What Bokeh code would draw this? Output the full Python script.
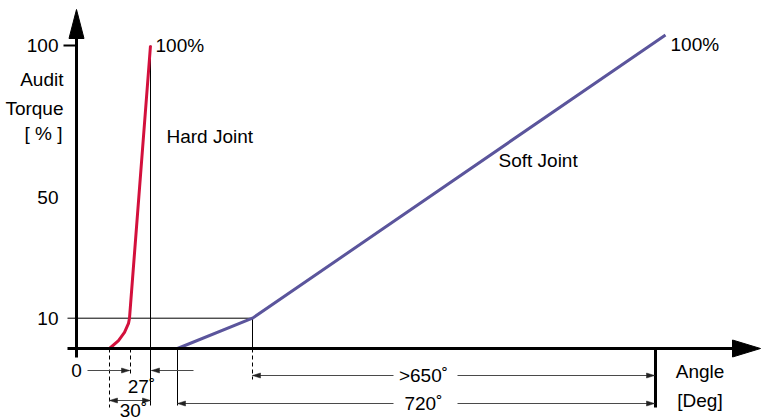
from bokeh.plotting import figure
from bokeh.models import Range1d
from bokeh.core.properties import value
from bokeh.embed import file_html
from bokeh.resources import INLINE

# ---------------- data (diagram units: x = angle position, y = torque %) ----------
y_tick_values = [100, 50, 10]
y_tick_labels = ["100", "50", "10"]

hard_angle = [33, 42, 48, 52, 53, 74]
hard_torque = [0, 2.6, 5.3, 8.3, 10, 100]

soft_angle = [101, 176, 589]
soft_torque = [0, 10, 103.5]

# key angle positions on the diagram
hard_snug = 33       # start of hard joint
hard_27 = 54         # 27 deg mark
hard_30 = 74         # 30 deg mark (100 % hard)
soft_snug = 101      # start of soft joint
soft_knee = 176      # 10 % point on soft joint
soft_720 = 579       # 720 deg mark
knee_torque = 10

dim_labels = ["0", "27˚", "30˚", ">650˚", "720˚"]

# ---------------- geometry helpers ----------------
W, H = 766, 420
PXY = 3.03                      # pixels per torque unit
X0 = 76                         # plot px of angle 0
Y0 = 348                        # plot px (from top) of torque 0
x_range = Range1d(-X0, W - X0)
y_range = Range1d(-(H - Y0) / PXY, Y0 / PXY)

def py(px):
    """pixel offset -> torque units"""
    return px / PXY

FONT = value("Liberation Sans")
FS = "19px"
BLACK = "#000000"
DIM = "#4a4a4a"
RED = "#d3103c"
PURPLE = "#5b559c"

p = figure(width=W, height=H, x_range=x_range, y_range=y_range,
           output_backend="svg", toolbar_location=None,
           x_axis_location=None, y_axis_location=None,
           min_border=0, outline_line_color=None)
p.grid.visible = False
p.background_fill_color = "white"
p.border_fill_color = "white"

# ---------------- reference / extension lines ----------------
# 10 % horizontal guide
p.line([-9, soft_knee], [knee_torque, knee_torque], line_color=BLACK, line_width=1)
# 100 tick
p.line([-13, 0], [100, 100], line_color=BLACK, line_width=2)
# solid verticals
p.segment(x0=[hard_30, soft_snug, soft_knee], y0=[100, 0, knee_torque],
          x1=[hard_30, soft_snug, soft_knee], y1=[-py(57), -py(57), 0],
          line_color=BLACK, line_width=1)
# dashed verticals
p.segment(x0=[hard_snug, hard_27, soft_knee], y0=[0, 0, 0],
          x1=[hard_snug, hard_27, soft_knee], y1=[-py(59), -py(27), -py(31)],
          line_color=BLACK, line_width=1, line_dash="4 3")
# 720 end bar
p.line([soft_720, soft_720], [0, -py(59)], line_color=BLACK, line_width=3)

# ---------------- dimension lines ----------------
row_a = -py(22)
row_b = -py(27)
row_c = -py(52)
row_d = -py(55)
gap_l, gap_r = 317, 381

dim_x0 = [11, hard_30 + 43, hard_snug, soft_knee, gap_r, soft_snug, gap_r]
dim_x1 = [hard_27 - 1, hard_30 + 1, hard_30, gap_l, soft_720 - 1, gap_l, soft_720 - 1]
dim_y = [row_a, row_a, row_c, row_b, row_b, row_d, row_d]
p.segment(x0=dim_x0, y0=dim_y, x1=dim_x1, y1=dim_y, line_color=DIM, line_width=1)

def head(xt, yt, d, length=8, half=2.5):
    return [xt, xt - d * length, xt - d * length], [yt, yt + py(half), yt - py(half)]

heads = [
    (hard_27 - 1, row_a, 1),
    (hard_30 + 1, row_a, -1),
    (hard_snug, row_c, -1),
    (hard_30, row_c, 1),
    (soft_knee, row_b, -1),
    (soft_720 - 1, row_b, 1),
    (soft_snug, row_d, -1),
    (soft_720 - 1, row_d, 1),
]
hx, hy = [], []
for xt, yt, d in heads:
    a, b = head(xt, yt, d)
    hx.append(a)
    hy.append(b)
p.patches(hx, hy, fill_color="#222222", line_color="#222222", line_width=0.5)

# ---------------- curves ----------------
p.line(hard_angle, hard_torque, line_color=RED, line_width=3, line_join="round")
p.line(soft_angle, soft_torque, line_color=PURPLE, line_width=3, line_join="round")

# ---------------- axes ----------------
p.line([0, 0], [-py(9), py(310)], line_color=BLACK, line_width=3)
p.patch([-7.5, 7.5, 0], [py(310), py(310), py(339)], fill_color=BLACK, line_color=BLACK)
p.line([-9, 656], [0, 0], line_color=BLACK, line_width=3)
p.patch([656, 656, 684], [py(8.5), -py(8.5), 0], fill_color=BLACK, line_color=BLACK)

# ---------------- texts ----------------
p.text(x=[-18] * 3, y=y_tick_values, text=y_tick_labels,
       text_font=FONT, text_font_size=FS, text_align="right", text_baseline="middle")
p.text(x=[-13, -13, -14], y=[py(269.5), py(240.5), py(215.5)],
       text=["Audit", "Torque", "[ % ]"],
       text_font=FONT, text_font_size=FS, text_align="right", text_baseline="middle")
p.text(x=[hard_30 + 5, soft_angle[-1] + 5], y=[100, 100.2], text=["100%", "100%"],
       text_font=FONT, text_font_size=FS, text_align="left", text_baseline="middle")
p.text(x=[90, 422], y=[py(212), py(188)], text=["Hard Joint", "Soft Joint"],
       text_font=FONT, text_font_size=FS, text_align="left", text_baseline="middle")
p.text(x=[0, 65, 347, 347], y=[row_a, -py(38), row_b, row_d],
       text=[dim_labels[0], dim_labels[1], dim_labels[3], dim_labels[4]],
       text_font=FONT, text_font_size=FS, text_align="center", text_baseline="middle")
p.text(x=[57], y=[-py(62)], text=[dim_labels[2]],
       text_font=FONT, text_font_size=FS, text_align="center", text_baseline="middle")
p.text(x=[623.5, 623.5], y=[-py(22.5), -py(52)], text=["Angle", "[Deg]"],
       text_font=FONT, text_font_size=FS, text_align="center", text_baseline="middle")

open("out.html", "w").write(file_html(p, INLINE))
